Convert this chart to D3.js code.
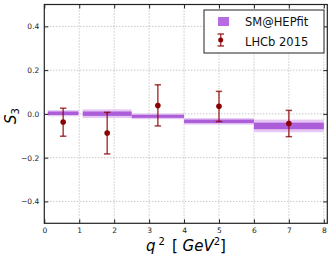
<!DOCTYPE html>
<html lang="en">
<head>
<meta charset="utf-8">
<script src="https://cdn.jsdelivr.net/npm/d3@7"></script>
<style>
  body { margin: 0; background: #fff; }
  text { font-family: "DejaVu Sans", sans-serif; }
</style>
</head>
<body>
<script>
// SM prediction bins (q2 ranges) with central value and two band half-widths
var binLo   = [0.1, 1.1, 2.5, 4.0, 6.0];
var binHi   = [0.98, 2.5, 4.0, 6.0, 8.0];
var smVal   = [0.003, 0.001, -0.011, -0.034, -0.055];
var smErr1  = [0.008, 0.010, 0.007, 0.008, 0.015];
var smErr2  = [0.014, 0.020, 0.013, 0.015, 0.029];

// LHCb 2015 measurements
var lhcbX   = [0.54, 1.8, 3.25, 5.0, 7.0];
var lhcbY   = [-0.037, -0.087, 0.038, 0.035, -0.044];
var lhcbHi  = [0.026, 0.007, 0.133, 0.103, 0.016];
var lhcbLo  = [-0.102, -0.183, -0.055, -0.035, -0.104];

var xTicks = [0, 1, 2, 3, 4, 5, 6, 7, 8];
var yTicks = [-0.4, -0.2, 0.0, 0.2, 0.4];

var w = 332, h = 260;
var pL = 44.3, pR = 327.3, pT = 4.5, pB = 223.3;

var svg = d3.select("body").append("svg").attr("width", w).attr("height", h);

var x = d3.scaleLinear().domain([0, 8.1]).range([pL, pR]);
var y = d3.scaleLinear().domain([-0.5, 0.5]).range([pB, pT]);

// grid
svg.selectAll(".gx").data(xTicks.slice(1)).enter().append("line")
  .attr("x1", function(d) { return x(d); }).attr("x2", function(d) { return x(d); })
  .attr("y1", pT).attr("y2", pB)
  .attr("stroke", "#999").attr("stroke-width", 0.8).attr("stroke-dasharray", "1,2");
svg.selectAll(".gy").data(yTicks).enter().append("line")
  .attr("x1", pL).attr("x2", pR)
  .attr("y1", function(d) { return y(d); }).attr("y2", function(d) { return y(d); })
  .attr("stroke", "#999").attr("stroke-width", 0.8).attr("stroke-dasharray", "1,2");

// SM bands
var bins = d3.range(binLo.length);
svg.selectAll(".b2").data(bins).enter().append("rect")
  .attr("x", function(i) { return x(binLo[i]); })
  .attr("width", function(i) { return x(binHi[i]) - x(binLo[i]); })
  .attr("y", function(i) { return y(smVal[i] + smErr2[i]); })
  .attr("height", function(i) { return y(smVal[i] - smErr2[i]) - y(smVal[i] + smErr2[i]); })
  .attr("fill", "#e5c8f3");
svg.selectAll(".b1").data(bins).enter().append("rect")
  .attr("x", function(i) { return x(binLo[i]); })
  .attr("width", function(i) { return x(binHi[i]) - x(binLo[i]); })
  .attr("y", function(i) { return y(smVal[i] + smErr1[i]); })
  .attr("height", function(i) { return y(smVal[i] - smErr1[i]) - y(smVal[i] + smErr1[i]); })
  .attr("fill", "#ac5dd8");

// LHCb error bars
var red = "#8b0000";
var pts = d3.range(lhcbX.length);
var eb = svg.selectAll(".eb").data(pts).enter().append("g");
eb.append("line")
  .attr("x1", function(i) { return x(lhcbX[i]); }).attr("x2", function(i) { return x(lhcbX[i]); })
  .attr("y1", function(i) { return y(lhcbHi[i]); }).attr("y2", function(i) { return y(lhcbLo[i]); })
  .attr("stroke", red).attr("stroke-opacity", 0.75).attr("stroke-width", 1.5);
eb.append("line")
  .attr("x1", function(i) { return x(lhcbX[i]) - 3.2; }).attr("x2", function(i) { return x(lhcbX[i]) + 3.2; })
  .attr("y1", function(i) { return y(lhcbHi[i]); }).attr("y2", function(i) { return y(lhcbHi[i]); })
  .attr("stroke", red).attr("stroke-opacity", 0.75).attr("stroke-width", 1.5);
eb.append("line")
  .attr("x1", function(i) { return x(lhcbX[i]) - 3.2; }).attr("x2", function(i) { return x(lhcbX[i]) + 3.2; })
  .attr("y1", function(i) { return y(lhcbLo[i]); }).attr("y2", function(i) { return y(lhcbLo[i]); })
  .attr("stroke", red).attr("stroke-opacity", 0.75).attr("stroke-width", 1.5);
eb.append("circle")
  .attr("cx", function(i) { return x(lhcbX[i]); }).attr("cy", function(i) { return y(lhcbY[i]); })
  .attr("r", 2.8).attr("fill", red);

// axes (inward ticks all round)
var ax = svg.append("g").attr("transform", "translate(0," + pB + ")")
  .call(d3.axisBottom(x).tickValues(xTicks).tickSize(-4).tickPadding(4).tickFormat(d3.format("d")));
var axt = svg.append("g").attr("transform", "translate(0," + pT + ")")
  .call(d3.axisTop(x).tickValues(xTicks).tickSize(-4).tickFormat(""));
var ay = svg.append("g").attr("transform", "translate(" + pL + ",0)")
  .call(d3.axisLeft(y).tickValues(yTicks).tickSize(-4).tickPadding(5)
    .tickFormat(function(d) { return d3.format(".1f")(d).replace("-", "\u2212"); }));
var ayr = svg.append("g").attr("transform", "translate(" + pR + ",0)")
  .call(d3.axisRight(y).tickValues(yTicks).tickSize(-4).tickFormat(""));
[ax, axt, ay, ayr].forEach(function(g) {
  g.select(".domain").remove();
  g.selectAll("text").attr("font-size", 7.5).attr("fill", "#222").attr("font-family", "DejaVu Sans");
  g.selectAll("line").attr("stroke", "#222");
});

svg.append("rect").attr("x", pL).attr("y", pT)
  .attr("width", pR - pL).attr("height", pB - pT)
  .attr("fill", "none").attr("stroke", "#222").attr("stroke-width", 1.2);

// axis labels
var xl = svg.append("text").attr("x", 186).attr("y", 251).attr("text-anchor", "middle")
  .attr("font-family", "DejaVu Serif").attr("font-style", "italic").attr("font-size", 15);
xl.append("tspan").text("q");
xl.append("tspan").attr("dy", -6).attr("font-size", 10).attr("font-style", "normal").attr("dx", 3).text("2");
xl.append("tspan").attr("dy", 6).attr("font-style", "normal").attr("dx", 7).text("[ ");
xl.append("tspan").text("GeV");
xl.append("tspan").attr("dy", -6).attr("font-size", 10).attr("font-style", "normal").text("2");
xl.append("tspan").attr("dy", 6).attr("font-style", "normal").text("]");

var yl = svg.append("text").attr("transform", "translate(16,116) rotate(-90)")
  .attr("text-anchor", "middle")
  .attr("font-family", "DejaVu Serif").attr("font-style", "italic").attr("font-size", 15);
yl.append("tspan").text("S");
yl.append("tspan").attr("dy", 3).attr("font-size", 10).attr("font-style", "normal").text("3");

// legend
var lg = svg.append("g");
lg.append("rect").attr("x", 204).attr("y", 10).attr("width", 120).attr("height", 43)
  .attr("fill", "#fff").attr("stroke", "#222").attr("stroke-width", 1);
lg.append("rect").attr("x", 218).attr("y", 17).attr("width", 11).attr("height", 9).attr("fill", "#b56de0");
lg.append("line").attr("x1", 220.7).attr("x2", 220.7).attr("y1", 34).attr("y2", 46)
  .attr("stroke", red).attr("stroke-opacity", 0.75).attr("stroke-width", 1.5);
lg.append("line").attr("x1", 217.5).attr("x2", 224).attr("y1", 34).attr("y2", 34)
  .attr("stroke", red).attr("stroke-opacity", 0.75).attr("stroke-width", 1.5);
lg.append("line").attr("x1", 217.5).attr("x2", 224).attr("y1", 46).attr("y2", 46)
  .attr("stroke", red).attr("stroke-opacity", 0.75).attr("stroke-width", 1.5);
lg.append("circle").attr("cx", 220.7).attr("cy", 40).attr("r", 2.5).attr("fill", red);
lg.append("text").attr("x", 245).attr("y", 25.5).attr("font-size", 11.5).attr("fill", "#111").text("SM@HEPfit");
lg.append("text").attr("x", 245).attr("y", 45.5).attr("font-size", 11.5).attr("fill", "#111").text("LHCb 2015");
</script>
</body>
</html>
